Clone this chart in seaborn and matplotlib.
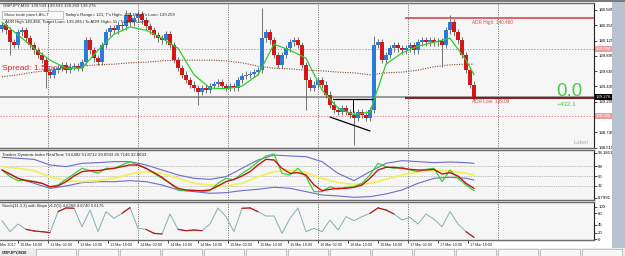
import numpy as np
import pandas as pd
import matplotlib
matplotlib.use("Agg")
import matplotlib.pyplot as plt
import matplotlib.transforms as mtransforms
from matplotlib.patches import Rectangle
import seaborn as sns

sns.set_theme(style="white")
plt.rcParams['font.family'] = ['Liberation Sans', 'DejaVu Sans']

# ---------------- data ----------------
first_open = 140.30
closes = [140.36, 140.28, 140.10, 140.06, 140.25, 140.28, 140.16, 140.06, 139.98, 139.91,
          139.83, 139.65, 139.61, 139.68, 139.71, 139.76, 139.68, 139.73, 139.74, 139.71,
          139.80, 140.13, 139.98, 139.86, 139.80, 140.06, 140.25, 140.31, 140.28, 140.36,
          140.34, 140.51, 140.40, 140.46, 140.52, 140.43, 140.34, 140.28, 140.21, 140.16,
          140.13, 140.22, 140.06, 139.83, 139.71, 139.61, 139.53, 139.46, 139.41, 139.35,
          139.41, 139.38, 139.44, 139.47, 139.50, 139.44, 139.41, 139.44, 139.41, 139.53,
          139.59, 139.61, 139.62, 139.65, 139.68, 140.16, 140.25, 140.13, 139.91, 139.76,
          139.91, 140.01, 140.10, 140.13, 140.06, 139.76, 139.53, 139.41, 139.46, 139.53,
          139.46, 139.31, 139.16, 139.08, 139.05, 139.11, 139.05, 139.01, 138.96, 139.05,
          139.01, 138.96, 139.08, 140.06, 140.10, 139.83, 139.91, 140.01, 140.06, 140.01,
          139.98, 140.01, 140.06, 139.98, 140.10, 140.13, 140.10, 140.13, 140.10, 140.12,
          140.06, 140.28, 140.40, 140.25, 140.13, 139.91, 139.68, 139.46, 139.28]
spike_high = {31: 140.59, 65: 140.62, 93: 140.20, 112: 140.51}
spike_low = {2: 139.91, 11: 139.41, 49: 139.16, 76: 139.08, 88: 138.55, 110: 139.73}

band_x = [0, 4, 8, 12, 16, 20, 24, 28, 32, 36, 40, 44, 48, 52, 56, 60, 64, 68, 72, 76,
          80, 84, 88, 92, 96, 100, 104, 108, 112, 116, 118]
fast_ma = [140.40, 140.21, 140.01, 139.83, 139.71, 139.71, 139.98, 140.22, 140.33, 140.28,
           140.16, 140.01, 139.61, 139.41, 139.40, 139.44, 139.61, 140.07, 139.98, 139.86,
           139.38, 139.11, 139.01, 139.05, 139.77, 139.94, 140.04, 140.10, 140.16, 139.83, 139.61]
slow_ma = [139.58, 139.61, 139.65, 139.68, 139.71, 139.74, 139.76, 139.77, 139.79, 139.80,
           139.82, 139.83, 139.83, 139.83, 139.82, 139.79, 139.74, 139.71, 139.70, 139.68,
           139.67, 139.65, 139.64, 139.61, 139.64, 139.65, 139.68, 139.73, 139.76, 139.77, 139.77]

price_ticks = [140.585, 140.355, 140.125, 139.895, 139.665, 139.435, 139.205, 138.745, 138.515]
adr_high = 140.466
adr_low = 139.265
bid = 139.276
level_up = 139.998
level_dn = 138.990

# TDI
tdi_upper = [85.1, 83.2, 81.3, 70.7, 67.6, 73.8, 75.1, 77.0, 77.0, 70.7, 61.3, 51.9, 45.7, 43.8,
             48.8, 64.4, 80.1, 89.4, 87.6, 86.3, 77.0, 55.0, 41.3, 58.2, 73.8, 78.8, 77.0, 75.1,
             76.3, 75.1, 73.8]
tdi_lower = [61.3, 45.7, 36.3, 26.9, 31.3, 37.6, 39.4, 39.4, 41.3, 39.4, 33.2, 23.8, 20.7, 17.6,
             18.8, 22.6, 25.1, 28.8, 26.9, 20.7, 14.4, 12.6, 10.1, 11.3, 16.3, 23.8, 36.3, 45.7,
             47.6, 45.7, 42.5]
tdi_mid = [67.6, 64.4, 60.0, 48.8, 41.3, 39.4, 41.3, 45.7, 53.8, 58.2, 55.0, 45.7, 36.3, 33.2,
           31.3, 36.3, 48.8, 58.2, 61.3, 56.3, 45.7, 37.6, 34.4, 36.3, 43.8, 51.9, 58.2, 60.0,
           60.0, 55.0, 51.9]
line_x = list(range(0, 120, 2))
tdi_fast = [61.3, 48.8, 41.3, 42.6, 39.4, 36.3, 28.8, 33.2, 43.8, 53.8, 64.4, 60.0, 55.0, 64.4,
            64.4, 70.7, 76.9, 70.7, 64.4, 55.0, 45.7, 36.3, 23.8, 22.6, 23.8, 20.7, 22.6, 36.3,
            45.7, 42.6, 55.0, 64.4, 76.9, 87.6, 91.3, 55.0, 51.9, 64.4, 48.8, 20.7, 20.7, 30.0,
            25.0, 28.8, 30.0, 36.3, 51.9, 73.8, 67.6, 64.4, 66.3, 61.3, 58.2, 62.5, 64.4, 39.4,
            61.3, 45.7, 33.2, 22.6]
tdi_signal = [61.3, 53.8, 45.7, 41.3, 39.4, 36.3, 30.0, 31.3, 39.4, 50.0, 58.2, 60.0, 60.0, 62.5,
              64.4, 67.6, 70.7, 70.7, 64.4, 56.3, 47.6, 36.3, 26.9, 23.8, 22.6, 22.6, 23.8, 31.3,
              39.4, 43.8, 50.0, 58.2, 70.7, 81.3, 80.1, 64.4, 55.0, 56.3, 51.9, 33.2, 22.6, 25.0,
              26.9, 26.9, 28.8, 33.2, 45.7, 61.3, 66.3, 66.3, 64.4, 62.5, 61.3, 61.3, 62.5, 53.8,
              56.3, 50.0, 36.3, 26.9]
tdi_levels = [68, 50, 32]

# Stochastic
stoch = [57.3, 22.9, 46.9, 30.2, 25.0, 22.9, 19.8, 85.4, 97.0, 95.9, 38.5, 90.6, 22.9, 85.4,
         64.6, 80.2, 98.0, 33.3, 30.2, 17.7, 15.6, 78.1, 30.2, 26.0, 28.1, 26.0, 46.9, 97.0,
         69.8, 22.9, 95.9, 97.0, 85.4, 71.9, 71.9, 17.7, 64.6, 97.0, 22.9, 33.3, 22.9, 59.4,
         28.1, 69.8, 57.3, 69.8, 80.2, 97.0, 90.6, 78.1, 59.4, 67.7, 46.9, 78.1, 61.5, 38.5,
         85.4, 46.9, 22.9, 5.2]

time_ticks = [-1.0, 4, 11.5, 19, 26.5, 34, 41.5, 49, 56.5, 64, 71.5, 79, 86.5, 94, 101.5, 109, 116.5]
time_labels = ["Mar 2017", "10 Mar 18:00", "13 Mar 02:00", "13 Mar 10:00", "13 Mar 18:00",
               "14 Mar 02:00", "14 Mar 10:00", "14 Mar 18:00", "15 Mar 02:00", "15 Mar 10:00",
               "15 Mar 18:00", "16 Mar 02:00", "16 Mar 10:00", "16 Mar 18:00", "17 Mar 02:00",
               "17 Mar 10:00", "17 Mar 18:00"]
grid_ticks = [11.5, 34, 56.5, 79, 101.5, 124]

# ---------------- figure ----------------
W, H = 625, 256
fig = plt.figure(figsize=(W / 100, H / 100), dpi=100, facecolor='white')
R = 594 / W
ax1 = fig.add_axes([0, 1 - 148 / H, R, 145 / H])
ax2 = fig.add_axes([0, 1 - 200 / H, R, 50 / H])
ax3 = fig.add_axes([0, 1 - 240 / H, R, 38 / H])

BG = '#F6F6F6'
for ax in (ax1, ax2, ax3):
    ax.set_facecolor(BG)
    ax.set_xlim(-0.5, 148)
    for s in ax.spines.values():
        s.set_color('#6A6A6A')
        s.set_linewidth(1.0)
    ax.spines['left'].set_visible(False)
    ax.spines['right'].set_color('#202020')
    ax.spines['right'].set_linewidth(0.8)
    ax.yaxis.tick_right()
    ax.tick_params(axis='y', which='both', right=True, left=False, length=2, width=0.5,
                   pad=1, labelsize=3.1, colors='#000000')
    ax.tick_params(axis='x', bottom=False, labelbottom=False)
    for g in grid_ticks:
        ax.axvline(g, color='#555555', lw=0.6, ls=(0, (1.2, 1.6)), zorder=1)

# ---- price panel ----
ax1.set_ylim(138.509, 140.690)
opens = [first_open] + closes[:-1]
n = len(closes)
xs = np.arange(n)
df = pd.DataFrame({'x': xs, 'open': opens, 'close': closes})
df['top'] = df[['open', 'close']].max(axis=1)
df['bot'] = df[['open', 'close']].min(axis=1)
df['high'] = [spike_high.get(i, t + 0.05) for i, t in enumerate(df['top'])]
df['low'] = [spike_low.get(i, b - 0.05) for i, b in enumerate(df['bot'])]
bull = df['close'] >= df['open']

ax1.axhline(level_up, color='#E58A8A', lw=0.7, ls=(0, (1.5, 1.5)), zorder=1)
ax1.axhline(level_dn, color='#E58A8A', lw=0.7, ls=(0, (1.5, 1.5)), zorder=1)
ax1.axhline(bid, color='#9A9A9A', lw=1.4, zorder=1)

ax1.text(0.0, 139.70, "Spread: 1.5 points", color='#D42A2A', fontsize=6, va='center',
         ha='left', zorder=2)

sns.lineplot(x=band_x, y=slow_ma, ax=ax1, color='#8E4A30', lw=0.8, linestyle=(0, (1, 1.2)),
             zorder=3, legend=False)
ax1.vlines(df['x'], df['low'], df['high'], color='#5E5E5E', lw=0.6, zorder=4)
ax1.bar(df['x'][bull], (df['top'] - df['bot'])[bull].clip(lower=0.012), bottom=df['bot'][bull],
        width=0.8, color='#2C7BD6', edgecolor='none', zorder=5)
ax1.bar(df['x'][~bull], (df['top'] - df['bot'])[~bull].clip(lower=0.012), bottom=df['bot'][~bull],
        width=0.8, color='#D41616', edgecolor='none', zorder=5)
sns.lineplot(x=band_x, y=fast_ma, ax=ax1, color='#2FCB2F', lw=0.9, zorder=6, legend=False)

# ADR lines
ax1.hlines(adr_high, 100.75, 148, color='#D84848', lw=1.2, zorder=6)
ax1.hlines(adr_low, 100.75, 148, color='#8E1A1A', lw=1.4, zorder=6)
ax1.text(117.5, adr_high - 0.025, "ADR High: 140.460", color='#D84848', fontsize=3.4,
         va='top', ha='left', zorder=7)
ax1.text(117.5, adr_low - 0.025, "ADR Low: 139.09", color='#D84848', fontsize=3.4,
         va='top', ha='left', zorder=7)

# drawn objects
ax1.plot([82, 92], [138.975, 138.765], color='black', lw=0.9, zorder=7)
ax1.plot([82.75, 92.75], [139.246, 139.246], color='black', lw=0.9, zorder=7)
ax1.plot([87.75, 87.75], [139.246, 139.05], color='black', lw=0.7, zorder=7)

ax1.set_yticks(price_ticks)
ax1.set_yticklabels([f"{t:.3f}" for t in price_ticks])

# right-side price boxes
def price_box(ax, y, text, fc, tc):
    trans = mtransforms.blended_transform_factory(ax.transAxes, ax.transData)
    ax.text(1.003, y, text, transform=trans, fontsize=3.1, color=tc, va='center', ha='left',
            bbox=dict(boxstyle='square,pad=0.15', fc=fc, ec='none'), clip_on=False, zorder=10)

price_box(ax1, level_up, "139.998", '#F09A9A', '#FFFFFF')
price_box(ax1, level_dn, "138.990", '#F09A9A', '#FFFFFF')
price_box(ax1, bid, "139.276", '#000000', '#FFFFFF')

# texts on price panel
def ftext(px, py, s, **kw):
    fig.text(px / W, 1 - py / H, s, **kw)

ftext(3, 5.5, "GBPJPY,M30  139.533 139.533 139.269 139.276", fontsize=3.1, va='center')
fig.patches.append(Rectangle((2 / W, 1 - 19 / H), 61 / W, 8 / H, transform=fig.transFigure,
                             fc='#FAFAFA', ec='#A8A8A8', lw=0.5, zorder=20))
ftext(4, 15, "Show trade panel, Alt+T", fontsize=3.1, va='center', color='#333333', zorder=21)
ftext(65, 15, "Today's Range= 121, T's High= 140.466, T's Low= 139.259", fontsize=3.1, va='center')
ftext(5, 22, "ADR High 140.466, Target Low= 139.286 / To ADR High= 11 / To ADR Low= 8",
      fontsize=3.1, va='center')
ftext(556, 91, "0.0", fontsize=13.5, color='#4CC84C', va='center', ha='left')
ftext(557, 105, "+432.1", fontsize=4.6, color='#4CC84C', va='center', ha='left')
ftext(573, 143, "Label", fontsize=4.4, color='#B0B0B0', va='center', ha='left')

# ---- TDI panel ----
ax2.set_ylim(5.0, 98.8)
for lv in tdi_levels:
    ax2.axhline(lv, color='#8A8A8A', lw=0.5, ls=(0, (1, 1.5)), zorder=1)
sns.lineplot(x=band_x, y=tdi_upper, ax=ax2, color='#6C6CCF', lw=0.8, zorder=3, legend=False)
sns.lineplot(x=band_x, y=tdi_lower, ax=ax2, color='#6C6CCF', lw=0.8, zorder=3, legend=False)
sns.lineplot(x=band_x, y=tdi_mid, ax=ax2, color='#F3F05E', lw=1.3, zorder=3, legend=False)
sns.lineplot(x=line_x, y=tdi_fast, ax=ax2, color='#33D433', lw=0.9, zorder=4, legend=False)
sns.lineplot(x=line_x, y=tdi_signal, ax=ax2, color='#C81414', lw=1.0, zorder=5, legend=False)
ax2.set_yticks([93.1851, 68, 50, 32, 8.7991])
ax2.set_yticklabels(["93.1851", "68", "50", "32", "8.7991"])
ftext(2, 155, "Traders Dynamic Index RealTime 74.6482 51.8712 29.0943 26.7146 32.8693",
      fontsize=3.1, va='center')

# ---- Stochastic panel ----
ax3.set_ylim(-3.1, 115.6)
sns.lineplot(x=line_x, y=stoch, ax=ax3, color='#86AEAE', lw=0.7, zorder=3, legend=False)
for i in range(len(stoch) - 1):
    a, b = stoch[i], stoch[i + 1]
    if (a > 75 and b > 75) or (a < 32 and b < 32):
        ax3.plot(line_x[i:i + 2], stoch[i:i + 2], color='#B81C1C', lw=0.9, zorder=4)
ax3.set_yticks([100, 80, 45, 20, 0])
ax3.set_yticklabels(["100", "80", "45", "20", "0"])
ax3.set_xticks(time_ticks[1:])
ax3.tick_params(axis='x', bottom=True, length=2, width=0.5, colors='#000000')
tr3 = mtransforms.blended_transform_factory(ax3.transData, ax3.transAxes)
for t, lab in zip(time_ticks, time_labels):
    ax3.text(t + 0.5, -0.08, lab, transform=tr3, fontsize=2.7, ha='left', va='top',
             clip_on=False)
ftext(2, 206, "Stoch(11,3,3) with Slope v1.0(1) 4.6268 4.6740 5.6176", fontsize=3.1, va='center')

# top border and bottom tab bar
fig.patches.append(Rectangle((0, 1 - 2 / H), 1, 2 / H, transform=fig.transFigure,
                             fc='#7A7A7A', ec='none'))
fig.patches.append(Rectangle((0, 0), 1, 8 / H, transform=fig.transFigure,
                             fc='#ECECEC', ec='none'))
ftext(2, 252, "GBPJPY,M30", fontsize=3.0, va='center', weight='bold')
tab_edges = [36, 78, 120, 162, 204, 246, 288, 330, 372, 414, 456, 498, 540, 582]
for e in tab_edges:
    fig.patches.append(Rectangle((e / W, 0), 40 / W, 7 / H, transform=fig.transFigure,
                                 fc='#F7F7F7', ec='#9A9A9A', lw=0.4))
fig.patches.append(Rectangle((612 / W, 8 / H), 13 / W, 1 - 10 / H, transform=fig.transFigure,
                             fc='#B9C3D0', ec='none'))

fig.savefig("out.png", dpi=100, facecolor=fig.get_facecolor())
